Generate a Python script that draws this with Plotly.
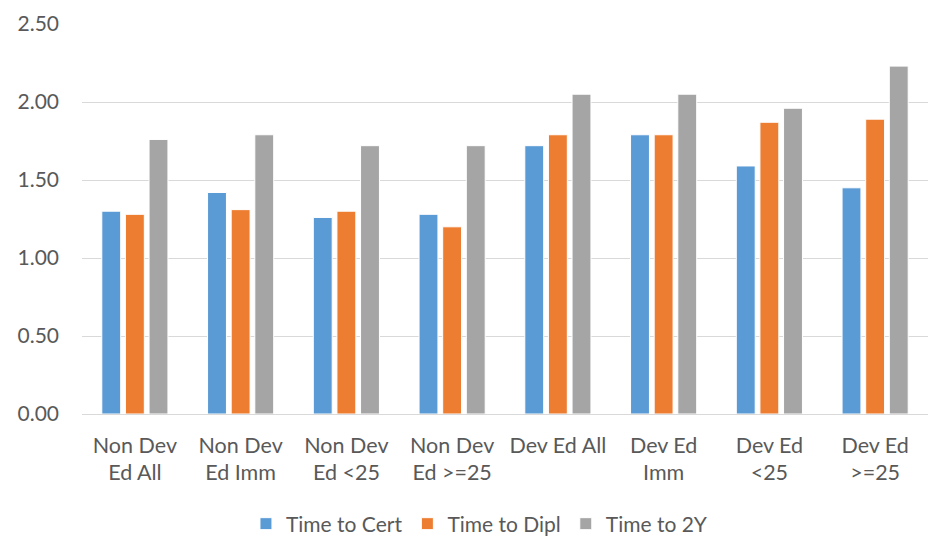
import plotly.graph_objects as go

categories = ["Non Dev<br>Ed All", "Non Dev<br>Ed Imm", "Non Dev<br>Ed <25", "Non Dev<br>Ed >=25",
              "Dev Ed All", "Dev Ed<br>Imm", "Dev Ed<br><25", "Dev Ed<br>>=25"]
time_to_cert = [1.30, 1.42, 1.26, 1.28, 1.72, 1.79, 1.59, 1.45]
time_to_dipl = [1.28, 1.31, 1.30, 1.20, 1.79, 1.79, 1.87, 1.89]
time_to_2y = [1.76, 1.79, 1.72, 1.72, 2.05, 2.05, 1.96, 2.23]

series = [
    ("Time to Cert", time_to_cert, "#5b9bd5"),
    ("Time to Dipl", time_to_dipl, "#ed7d31"),
    ("Time to 2Y", time_to_2y, "#a5a5a5"),
]

fig = go.Figure()
for name, vals, color in series:
    fig.add_trace(go.Bar(
        x=categories, y=vals, name=name,
        marker=dict(color=color, line=dict(color="white", width=1)),
    ))

font = dict(family="Lato, Carlito, sans-serif", size=21, color="#595959")
xfont = dict(family="Lato, Carlito, sans-serif", size=21.5, color="#595959")

fig.update_layout(
    width=931, height=538,
    margin=dict(l=82, r=3, t=24, b=124),
    paper_bgcolor="white", plot_bgcolor="white",
    font=font,
    barmode="group", bargap=0.33, bargroupgap=0.2,
    showlegend=True,
    legend=dict(orientation="h", xref="container", yref="container",
                x=0.515, xanchor="center", y=0.026, yanchor="middle",
                font=font, itemwidth=30, tracegroupgap=0),
    xaxis=dict(showgrid=False, showline=False, ticks="", tickfont=xfont,
               ticklabelstandoff=16),
    yaxis=dict(range=[0, 2.5], dtick=0.5, tickformat=".2f",
               showgrid=True, gridcolor="#d9d9d9", gridwidth=1,
               zeroline=True, zerolinecolor="#d9d9d9", zerolinewidth=1,
               showline=False, ticks="", tickfont=font,
               ticklabelstandoff=22),
)

fig.write_html("out.html")
